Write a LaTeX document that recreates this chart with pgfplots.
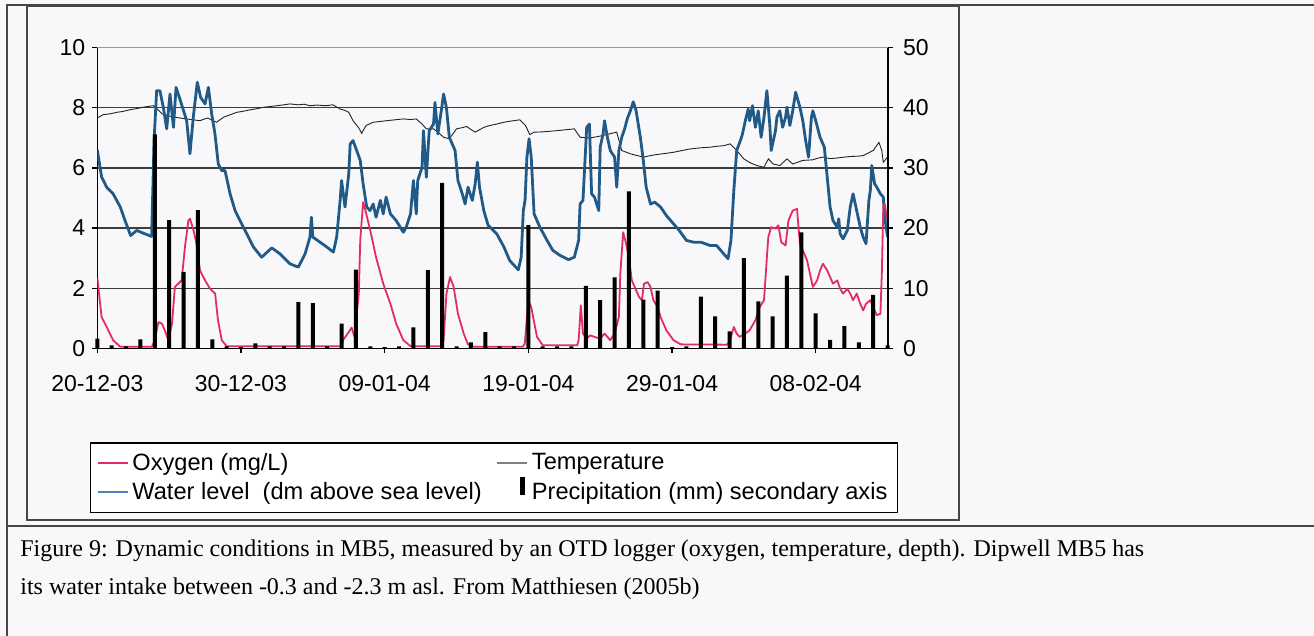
\documentclass[border=0pt]{standalone}
\usepackage{fontspec}
\setmainfont{Liberation Sans}
\newfontfamily\capfont{Liberation Serif}
\usepackage{pgfplots}
\pgfplotsset{compat=1.18}
\definecolor{wlblue}{RGB}{34,90,135}
\definecolor{wlleg}{RGB}{70,130,190}
\definecolor{oxred}{RGB}{225,45,95}
\definecolor{tgray}{RGB}{35,35,35}
\definecolor{gridc}{RGB}{60,60,60}
\definecolor{framec}{RGB}{70,70,70}
\definecolor{bgc}{RGB}{248,248,250}

\pgfplotstableread{
d P
0 1.6
1 0.5
2 0.3
3 1.5
4 35.6
5 21.3
6 12.7
7 23.0
8 1.5
9 0.3
10 0.2
11 0.8
12 0.3
13 0.3
14 7.7
15 7.5
16 0.3
17 4.1
18 13.1
19 0.3
20 0.2
21 0.3
22 3.5
23 13.0
24 27.5
25 0.3
26 1.0
27 2.7
28 0.3
29 0.3
30 20.5
31 0.3
32 0.3
33 0.3
34 10.4
35 8.0
36 11.8
37 26.1
38 8.1
39 9.6
40 0.2
41 0.3
42 8.6
43 5.3
44 2.8
45 15.0
46 7.8
47 5.3
48 12.1
49 19.3
50 5.8
51 1.4
52 3.7
53 1.0
54 8.9
55 0.5
}\precip

\begin{document}
\begin{tikzpicture}
\useasboundingbox[fill=bgc] (0pt,0pt) rectangle (657pt,318pt);
% page frames
\draw[framec, line width=0.8pt] (3.5pt,0pt) -- (3.5pt,315.5pt) -- (657pt,315.5pt);
\draw[framec, line width=1pt] (13.5pt,58pt) rectangle (479.5pt,315pt);
\draw[framec, line width=0.9pt] (3.5pt,55pt) -- (657pt,55pt);
\node[anchor=base west, inner sep=0pt, font=\capfont\fontsize{12}{14}\selectfont] at (10pt,39.5pt)
  {Figure 9: Dynamic conditions in MB5, measured by an OTD logger (oxygen, temperature, depth). Dipwell MB5 has};
\node[anchor=base west, inner sep=0pt, font=\capfont\fontsize{12}{14}\selectfont] at (10pt,20.5pt)
  {its water intake between -0.3 and -2.3 m asl. From Matthiesen (2005b)};

\begin{axis}[
  at={(48.65pt,143.85pt)}, anchor=south west,
  width=395.35pt, height=150.3pt, scale only axis,
  xmin=0, xmax=55.03, ymin=0, ymax=10,
  axis x line*=bottom, axis y line*=left,
  axis line style={black, line width=0.7pt, -},
  xtick={0,10,...,50},
  xticklabels={20-12-03,30-12-03,09-01-04,19-01-04,29-01-04,08-02-04},
  ytick={0,2,...,8},
  extra y ticks={10},
  extra y tick style={major grid style={black!40, line width=0.5pt}},
  ymajorgrids, grid style={gridc, line width=0.6pt},
  tick align=outside, major tick length=2.5pt,
  tick style={black, line width=0.6pt},
  /pgf/number format/assume math mode=true,
  ticklabel style={font=\fontsize{11.5}{13}\selectfont},
  xticklabel style={yshift=-7.5pt},
]
\addplot[tgray, line width=0.45pt] coordinates {
(0,7.66) (0.4,7.77) (0.9,7.80) (1.35,7.85) (1.8,7.88) (2.3,7.94) (2.7,7.97) (3.2,8.02) (3.6,8.05) (3.9,8.07)
(4.2,7.95) (4.5,7.8) (4.9,7.74) (5.3,7.69) (5.8,7.66) (6.2,7.63) (6.7,7.60) (7.15,7.57) (7.4,7.62) (7.7,7.66) (8.0,7.58) (8.3,7.52)
(8.8,7.69) (9.2,7.76) (9.7,7.85) (10.1,7.88) (10.6,7.93) (11.1,7.97) (11.6,8.02) (12.0,8.04) (12.5,8.07) (13.0,8.10) (13.4,8.13) (14.0,8.1)
(14.4,8.12) (14.8,8.07) (15.3,8.09) (15.9,8.07) (16.4,8.1) (16.9,7.96) (17.2,7.92) (17.5,7.85) (17.8,7.57) (18.0,7.45) (18.2,7.33) (18.4,7.15)
(18.7,7.41) (19.2,7.52) (19.6,7.54) (20.1,7.57) (20.7,7.60) (21.3,7.63) (21.8,7.61) (22.2,7.63) (22.6,7.46) (22.9,7.3) (23.4,7.3)
(23.8,7.15) (24.1,7.02) (24.5,6.97) (25.0,7.3) (25.4,7.34) (25.7,7.38) (26.0,7.28) (26.3,7.19) (26.9,7.35) (27.3,7.41) (27.8,7.46) (28.3,7.52)
(28.8,7.56) (29.4,7.6) (29.8,7.41) (30.1,7.11) (30.4,7.19) (31.0,7.20) (31.5,7.22) (32.0,7.24) (32.4,7.26) (32.8,7.28) (33.2,7.3)
(33.6,7.02) (34.3,7.0) (34.8,7.04) (35.2,7.08) (35.7,7.14) (36.15,7.19) (36.5,6.58) (37.1,6.47) (37.5,6.42) (38.0,6.36) (38.5,6.41) (39.0,6.45)
(39.5,6.48) (40.1,6.52) (40.7,6.58) (41.25,6.63) (42.0,6.67) (42.65,6.69) (43.1,6.72) (43.6,6.74) (44.04,6.8) (44.5,6.58) (45.0,6.3)
(45.4,6.18) (45.9,6.08) (46.4,6.02) (46.7,6.3) (47.05,6.13) (47.5,6.08) (48.0,6.3) (48.4,6.13) (48.8,6.2) (49.1,6.25) (49.8,6.27)
(50.1,6.32) (50.5,6.36) (51.0,6.31) (51.5,6.33) (52.0,6.36) (52.4,6.38) (52.9,6.39) (53.3,6.41) (54.0,6.58) (54.4,6.85) (54.6,6.58)
(54.7,6.19) (55.0,6.36)
};
\addplot[wlblue, line width=1.4pt, line join=round] coordinates {
(0,6.6) (0.3,5.7) (0.65,5.36) (1.1,5.14) (1.6,4.7) (1.93,4.25) (2.32,3.75) (2.74,3.92) (3.2,3.83) (3.78,3.72) (3.95,6.9)
(4.13,8.57) (4.36,8.57) (4.6,8.0) (4.83,7.3) (5.06,8.46) (5.3,7.35) (5.48,8.68) (5.71,8.35) (5.94,8.0) (6.22,7.57) (6.45,6.47)
(6.68,7.69) (6.96,8.85) (7.19,8.35) (7.5,8.13) (7.73,8.68) (7.96,7.8) (8.19,7.13) (8.42,6.13) (8.66,5.91) (8.89,5.91) (9.24,5.14)
(9.59,4.58) (9.93,4.25) (10.4,3.81) (10.86,3.37) (11.44,3.03) (12.14,3.34) (12.72,3.14) (13.41,2.81) (13.99,2.70) (14.46,3.14)
(14.8,3.7) (14.9,4.36) (15.0,3.7) (15.5,3.53) (15.97,3.37) (16.43,3.2) (16.66,3.7) (16.9,4.92) (17.0,5.58) (17.24,4.7) (17.5,5.8)
(17.6,6.8) (17.8,6.91) (18.05,6.58) (18.3,6.25) (18.5,5.47) (18.75,4.7) (18.98,4.58) (19.2,4.8) (19.4,4.36) (19.7,4.92) (19.9,4.47)
(20.1,5.03) (20.4,4.47) (20.8,4.25) (21.3,3.86) (21.5,4.03) (21.8,4.47) (22.0,5.58) (22.2,4.47) (22.3,5.58) (22.6,6.02) (22.7,7.24)
(22.9,5.69) (23.1,7.24) (23.4,7.46) (23.5,8.18) (23.7,7.13) (23.97,8.0) (24.1,8.46) (24.3,8.0) (24.5,7.02) (24.9,6.58) (25.1,5.58)
(25.4,5.14) (25.6,4.8) (25.8,5.36) (26.1,4.92) (26.3,5.47) (26.45,6.19) (26.6,5.36) (26.9,4.58) (27.2,4.09) (27.8,3.81) (28.3,3.37)
(28.7,2.92) (29.3,2.61) (29.5,3.03) (29.65,4.58) (29.77,4.92) (29.9,6.36) (30.05,6.97) (30.2,6.36) (30.4,4.47) (30.8,4.03) (31.3,3.59)
(31.7,3.26) (32.2,3.09) (32.8,2.95) (33.2,3.03) (33.5,3.59) (33.6,4.8) (33.8,4.92) (34.06,7.35) (34.25,7.46) (34.4,5.14) (34.6,5.03)
(34.9,4.58) (35.0,6.69) (35.2,7.13) (35.3,7.57) (35.5,7.02) (35.7,6.58) (36.0,6.36) (36.15,5.36) (36.3,6.58) (36.5,7.02) (36.7,7.3)
(36.9,7.66) (37.1,7.9) (37.3,8.2) (37.5,7.9) (37.8,7.0) (38.0,6.25) (38.2,5.36) (38.5,4.8) (38.8,4.86) (39.2,4.7) (39.6,4.42)
(40.1,4.14) (40.5,3.92) (41.0,3.59) (41.5,3.53) (42.0,3.53) (42.65,3.42) (43.1,3.42) (43.6,3.14) (43.9,2.98) (44.1,3.59) (44.3,5.25)
(44.5,6.58) (44.8,6.97) (44.9,7.13) (45.1,7.57) (45.3,7.96) (45.4,7.57) (45.6,8.07) (45.8,7.35) (46.0,7.9) (46.2,7.02) (46.4,7.69)
(46.6,8.57) (46.8,7.46) (46.9,6.58) (47.2,7.24) (47.3,7.69) (47.5,7.9) (47.7,7.35) (47.9,7.69) (48.0,8.02) (48.2,7.41) (48.4,7.9)
(48.6,8.52) (48.9,8.02) (49.1,7.57) (49.3,6.91) (49.5,6.36) (49.7,7.69) (49.8,7.9) (50.0,7.57) (50.3,7.02) (50.4,6.91) (50.6,6.69)
(50.8,5.69) (51.0,4.7) (51.2,4.25) (51.5,4.03) (51.6,4.31) (51.7,3.81) (51.9,3.64) (52.2,3.92) (52.4,4.7) (52.6,5.14) (52.85,4.58)
(53.1,4.03) (53.3,3.7) (53.5,3.48) (53.7,4.92) (53.8,5.25) (53.9,6.08) (54.1,5.47) (54.25,5.36) (54.5,5.14) (54.7,5.03) (54.8,4.36)
(55.0,3.7)
};
\addplot[oxred, line width=0.9pt, line join=round] coordinates {
(0,2.35) (0.3,1.04) (0.65,0.71) (1.1,0.27) (1.6,0.05) (3.8,0.05) (4.0,0.27) (4.25,0.87) (4.5,0.82) (4.7,0.6) (4.94,0.27) (5.2,0.82)
(5.4,2.04) (5.64,2.15) (5.87,2.26) (6.1,3.37) (6.34,4.25) (6.45,4.31) (6.7,3.92) (6.9,3.48) (7.15,2.59) (7.5,2.26) (7.85,1.98)
(8.2,1.82) (8.4,0.93) (8.66,0.27) (9.0,0.07) (17.0,0.07) (17.1,0.27) (17.5,0.54) (17.7,0.69) (17.9,0.38) (18.2,1.82) (18.3,3.59)
(18.5,4.86) (18.6,4.7) (19.0,3.92) (19.4,3.03) (19.9,2.15) (20.4,1.48) (20.8,0.82) (21.3,0.27) (21.8,0.07) (24.0,0.07) (24.1,0.27)
(24.3,1.82) (24.55,2.37) (24.8,2.04) (25.1,1.15) (25.5,0.49) (25.8,0.13) (26.2,0.05) (29.6,0.05) (29.75,0.15) (30.0,1.6) (30.2,1.37)
(30.6,0.38) (31.0,0.1) (33.4,0.1) (33.5,0.27) (33.65,1.43) (33.8,0.49) (34.06,0.32) (34.3,0.43) (34.6,0.38) (35.0,0.32) (35.3,0.49)
(35.7,0.27) (36.0,0.49) (36.3,1.04) (36.4,2.48) (36.6,3.86) (36.8,3.48) (37.0,3.03) (37.2,2.26) (37.4,2.04) (37.7,1.71) (37.9,1.6)
(38.05,2.15) (38.3,2.2) (38.5,2.04) (38.7,1.6) (39.0,1.37) (39.2,1.04) (39.6,0.6) (40.1,0.27) (40.6,0.13) (43.8,0.12) (44.0,0.21)
(44.3,0.71) (44.5,0.49) (44.7,0.38) (45.1,0.49) (45.4,0.6) (45.8,0.93) (46.1,1.37) (46.4,1.6) (46.6,3.03) (46.7,3.7) (46.9,4.03)
(47.2,3.98) (47.4,4.09) (47.6,3.53) (47.9,3.42) (48.1,4.25) (48.3,4.47) (48.4,4.58) (48.7,4.64) (48.8,4.03) (48.9,3.48) (49.1,3.26)
(49.4,2.92) (49.6,2.48) (49.8,2.04) (50.1,2.26) (50.3,2.59) (50.5,2.81) (50.8,2.59) (51.0,2.37) (51.2,2.15) (51.5,2.26) (51.7,1.98)
(51.9,1.82) (52.2,1.98) (52.4,1.82) (52.6,1.6) (52.85,1.82) (53.1,1.48) (53.3,1.26) (53.5,1.48) (53.8,1.6) (54.0,1.37) (54.25,1.1)
(54.5,1.15) (54.6,2.48) (54.7,4.7) (54.8,4.8) (55.0,4.25)
};
\end{axis}

\begin{axis}[
  at={(48.65pt,143.85pt)}, anchor=south west,
  width=395.35pt, height=150.3pt, scale only axis,
  xmin=0, xmax=55.03, ymin=0, ymax=50,
  axis x line=none, axis y line*=right,
  axis line style={black, line width=0.7pt, -},
  ytick={0,10,...,50},
  tick align=outside, major tick length=2.5pt,
  tick style={black, line width=0.6pt},
  /pgf/number format/assume math mode=true,
  yticklabel style={font=\fontsize{11.5}{13}\selectfont, xshift=1.5pt},
  clip=false,
  legend columns=2,
  legend cell align=left,
  legend style={at={(-0.0092,-0.313)}, anchor=north west, draw=black, line width=0.6pt,
    font=\fontsize{11.8}{14}\selectfont, inner xsep=3pt, inner ysep=3pt,
    /tikz/every even column/.append style={column sep=5.5pt},
    /tikz/every row/.append style={row sep=4pt}},
  legend image code/.code={\draw[#1] (0pt,0pt) -- (15pt,0pt);},
]
\addlegendimage{oxred, line width=0.9pt}
\addlegendentry{Oxygen (mg/L)}
\addlegendimage{gray, line width=0.6pt}
\addlegendentry{Temperature}
\addlegendimage{wlleg, line width=0.9pt}
\addlegendentry{Water level\ \ (dm above sea level)}
\addplot[ybar, bar width=2pt, fill=black, draw=none,
  legend image code/.code={\fill[black] (11.5pt,-1.5pt) rectangle (14pt,7.5pt);}]
  table[x=d, y=P] {\precip};
\addlegendentry{Precipitation (mm) secondary axis}
\end{axis}
\end{tikzpicture}
\end{document}
